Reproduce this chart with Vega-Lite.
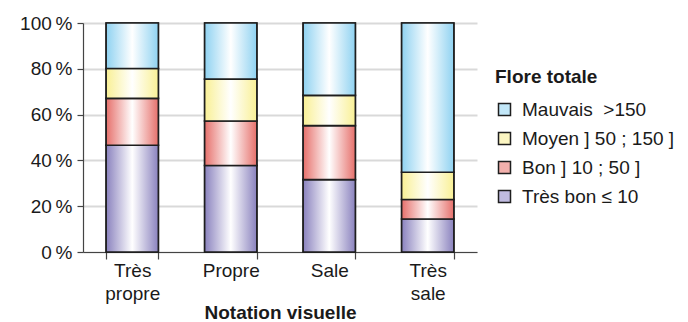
{
  "$schema": "https://vega.github.io/schema/vega-lite/v6.json",
  "autosize": "none",
  "width": 394,
  "height": 229,
  "padding": {"left": 83, "top": 23, "right": 211, "bottom": 70},
  "background": "white",
  "config": {
    "font": "Liberation Sans",
    "view": {"stroke": null}
  },
  "data": {
    "values": [
      {"notation": "Très propre", "classe": "Très bon ≤ 10", "rang": 1, "pct": 46.6},
      {"notation": "Très propre", "classe": "Bon ] 10 ; 50 ]", "rang": 2, "pct": 20.5},
      {"notation": "Très propre", "classe": "Moyen ] 50 ; 150 ]", "rang": 3, "pct": 13.0},
      {"notation": "Très propre", "classe": "Mauvais \u00a0>150", "rang": 4, "pct": 19.9},
      {"notation": "Propre", "classe": "Très bon ≤ 10", "rang": 1, "pct": 37.8},
      {"notation": "Propre", "classe": "Bon ] 10 ; 50 ]", "rang": 2, "pct": 19.4},
      {"notation": "Propre", "classe": "Moyen ] 50 ; 150 ]", "rang": 3, "pct": 18.3},
      {"notation": "Propre", "classe": "Mauvais \u00a0>150", "rang": 4, "pct": 24.5},
      {"notation": "Sale", "classe": "Très bon ≤ 10", "rang": 1, "pct": 31.6},
      {"notation": "Sale", "classe": "Bon ] 10 ; 50 ]", "rang": 2, "pct": 23.6},
      {"notation": "Sale", "classe": "Moyen ] 50 ; 150 ]", "rang": 3, "pct": 13.2},
      {"notation": "Sale", "classe": "Mauvais \u00a0>150", "rang": 4, "pct": 31.6},
      {"notation": "Très sale", "classe": "Très bon ≤ 10", "rang": 1, "pct": 14.4},
      {"notation": "Très sale", "classe": "Bon ] 10 ; 50 ]", "rang": 2, "pct": 8.5},
      {"notation": "Très sale", "classe": "Moyen ] 50 ; 150 ]", "rang": 3, "pct": 11.9},
      {"notation": "Très sale", "classe": "Mauvais \u00a0>150", "rang": 4, "pct": 65.2}
    ]
  },
  "transform": [
    {"stack": "pct", "groupby": ["notation"], "sort": [{"field": "rang", "order": "ascending"}], "as": ["y0", "y1"]}
  ],
  "encoding": {
    "x": {
      "field": "notation",
      "type": "nominal",
      "sort": ["Très propre", "Propre", "Sale", "Très sale"],
      "scale": {"paddingInner": 0.47, "paddingOuter": 0.235},
      "axis": {
        "title": "Notation visuelle",
        "titleFont": "Liberation Sans",
        "titleFontSize": 19,
        "titleFontWeight": "bold",
        "titleColor": "#1a1a1a",
        "titlePadding": 0,
        "labelAngle": 0,
        "labelExpr": "split(datum.label, ' ')",
        "labelFontSize": 19,
        "labelColor": "#1a1a1a",
        "labelLineHeight": 23,
        "labelPadding": 2,
        "tickBand": "extent",
        "tickSize": 7,
        "tickColor": "#444444",
        "tickWidth": 1.2,
        "domainColor": "#444444",
        "domainWidth": 1.2
      }
    },
    "y": {
      "field": "y0",
      "type": "quantitative",
      "scale": {"domain": [0, 100], "nice": false},
      "axis": {
        "title": null,
        "values": [0, 20, 40, 60, 80, 100],
        "labelExpr": "datum.value + '\u2009%'",
        "labelFontSize": 19,
        "labelColor": "#1a1a1a",
        "labelPadding": 5,
        "tickSize": 6,
        "tickColor": "#444444",
        "tickWidth": 1.2,
        "domainColor": "#444444",
        "domainWidth": 1.2,
        "grid": true,
        "gridColor": "#d9d9d9",
        "gridWidth": 2
      }
    },
    "y2": {"field": "y1"}
  },
  "layer": [
    {
      "mark": {"type": "bar", "stroke": "#1e1e1e", "strokeWidth": 1.6},
      "encoding": {
        "color": {
          "field": "classe",
          "type": "nominal",
          "scale": {
            "domain": ["Mauvais \u00a0>150", "Moyen ] 50 ; 150 ]", "Bon ] 10 ; 50 ]", "Très bon ≤ 10"],
            "range": ["#c2e7f8", "#fcf6c2", "#f2b0ac", "#c0bbe0"]
          },
          "legend": {
            "title": "Flore totale",
            "orient": "none",
            "legendX": 412,
            "legendY": 45,
            "padding": 0,
            "titleFontSize": 19,
            "titleFontWeight": "bold",
            "titleColor": "#1a1a1a",
            "titlePadding": 13,
            "labelFontSize": 19,
            "labelColor": "#1a1a1a",
            "labelOffset": 8,
            "symbolType": "square",
            "symbolSize": 144,
            "symbolStrokeColor": "#1e1e1e",
            "symbolStrokeWidth": 1.5,
            "rowPadding": 9,
            "labelLimit": 300
          }
        }
      }
    },
    {
      "mark": {"type": "bar", "stroke": "#1e1e1e", "strokeWidth": 1.6},
      "encoding": {
        "fill": {
          "condition": [
            {"test": "datum.rang == 4", "value": {"gradient": "linear", "x1": 0, "y1": 0, "x2": 1, "y2": 0, "stops": [{"offset": 0, "color": "#8fd2f1"}, {"offset": 0.5, "color": "#ffffff"}, {"offset": 1, "color": "#8fd2f1"}]}},
            {"test": "datum.rang == 3", "value": {"gradient": "linear", "x1": 0, "y1": 0, "x2": 1, "y2": 0, "stops": [{"offset": 0, "color": "#f9f095"}, {"offset": 0.5, "color": "#ffffff"}, {"offset": 1, "color": "#f9f095"}]}},
            {"test": "datum.rang == 2", "value": {"gradient": "linear", "x1": 0, "y1": 0, "x2": 1, "y2": 0, "stops": [{"offset": 0, "color": "#e6706b"}, {"offset": 0.5, "color": "#ffffff"}, {"offset": 1, "color": "#e6706b"}]}}
          ],
          "value": {"gradient": "linear", "x1": 0, "y1": 0, "x2": 1, "y2": 0, "stops": [{"offset": 0, "color": "#8a82be"}, {"offset": 0.5, "color": "#ffffff"}, {"offset": 1, "color": "#8a82be"}]}
        }
      }
    }
  ]
}
